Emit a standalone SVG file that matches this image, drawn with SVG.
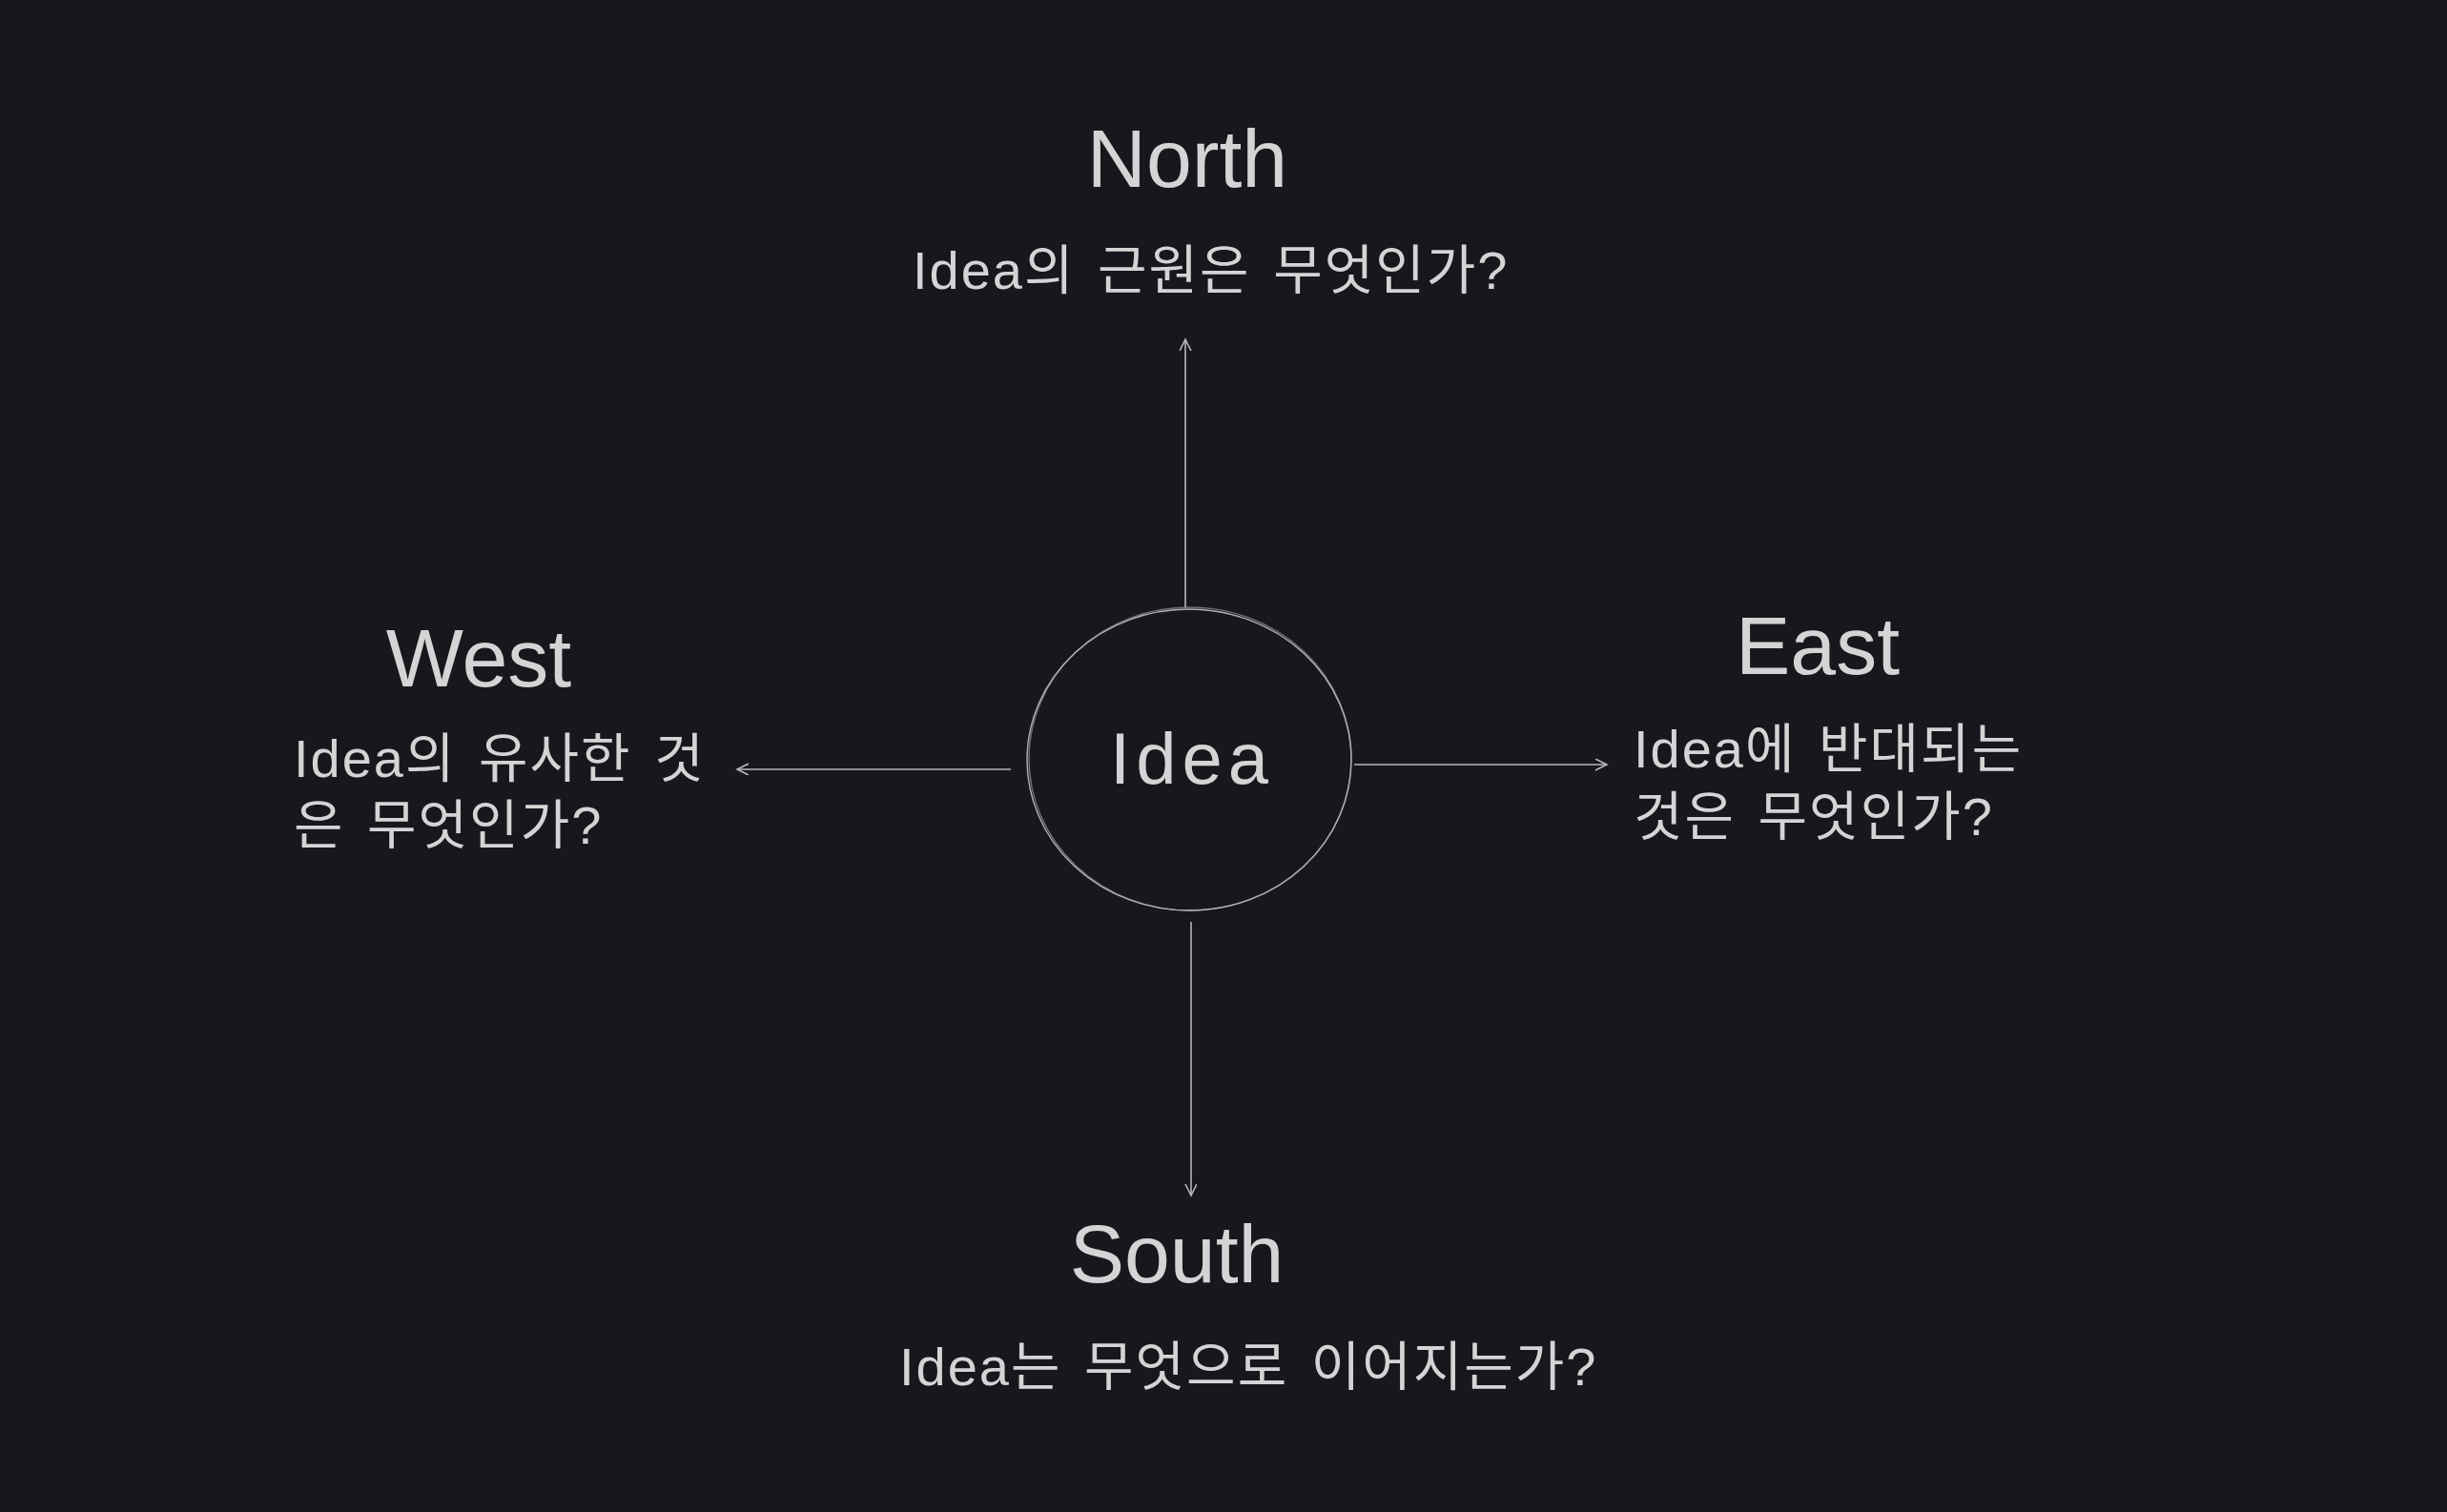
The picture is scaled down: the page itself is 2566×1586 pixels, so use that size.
<svg xmlns="http://www.w3.org/2000/svg" width="2566" height="1586" viewBox="0 0 2566 1586">
<defs>
<style>
.title{font-family:"Liberation Sans","Noto Sans",sans-serif;font-size:86px;fill:#d4d4d4;text-anchor:middle}
.body{font-family:"Liberation Sans","Noto Sans CJK KR",sans-serif;font-size:56px;fill:#d4d4d4;letter-spacing:2px;word-spacing:6px}
.conn{stroke:#b8b8b8;stroke-width:1.6;fill:none}
.node{stroke:#b0b0b0;stroke-width:1.4;fill:none}
</style>
<marker id="arr" markerUnits="userSpaceOnUse" markerWidth="24" markerHeight="24" refX="12" refY="6" orient="auto">
<path d="M0,0 L12,6 L0,12" fill="none" stroke="#b8b8b8" stroke-width="1.6"/>
</marker>
</defs>
<rect width="2566" height="1586" fill="#16181d"/>
<g id="connectors">
<line class="conn" x1="1243" y1="637" x2="1243" y2="356" marker-end="url(#arr)"/>
<line class="conn" x1="1060" y1="807" x2="773" y2="807" marker-end="url(#arr)"/>
<line class="conn" x1="1420" y1="802" x2="1685" y2="802" marker-end="url(#arr)"/>
<line class="conn" x1="1249" y1="967" x2="1249" y2="1254" marker-end="url(#arr)"/>
</g>
<g id="idea">
<ellipse class="node" cx="1247" cy="797" rx="170" ry="158"/>
<ellipse class="node" cx="1248" cy="796" rx="169" ry="159" opacity="0.6"/>
<text class="title" x="1250" y="822" style="font-size:76px;letter-spacing:6px">Idea</text>
</g>
<g id="north">
<text class="title" x="1245" y="196">North</text>
<text class="body" x="957" y="303">Idea의 근원은 무엇인가?</text>
</g>
<g id="west">
<text class="title" x="502" y="720">West</text>
<text class="body" x="308" y="815">Idea의 유사한 것</text>
<text class="body" x="308" y="885">은 무엇인가?</text>
</g>
<g id="east">
<text class="title" x="1906" y="707">East</text>
<text class="body" x="1713" y="805">Idea에 반대되는</text>
<text class="body" x="1713" y="876">것은 무엇인가?</text>
</g>
<g id="south">
<text class="title" x="1234" y="1345">South</text>
<text class="body" x="943" y="1453">Idea는 무엇으로 이어지는가?</text>
</g>
</svg>
